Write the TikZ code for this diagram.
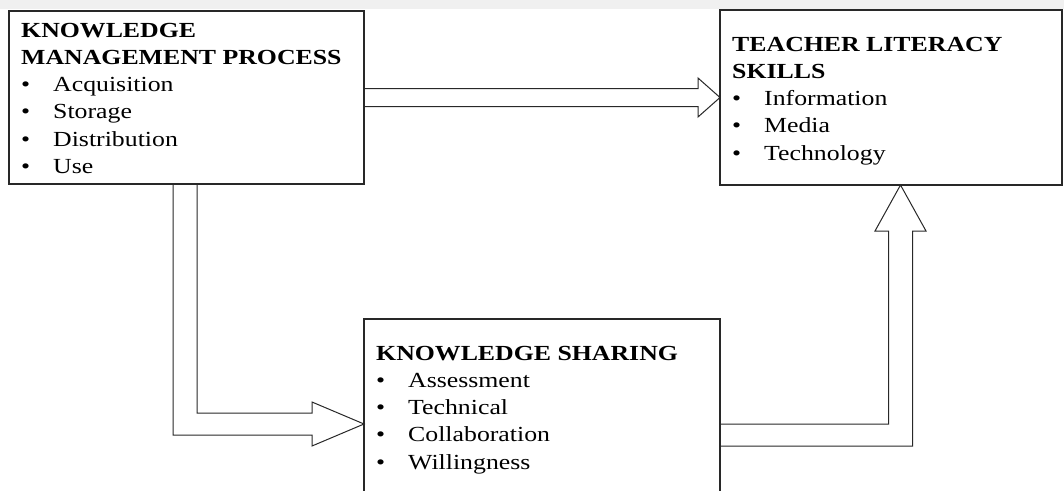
\documentclass[tikz,border=0pt]{standalone}
\usepackage{fontspec}
\setmainfont{Liberation Serif}[FakeStretch=1.2]
\usetikzlibrary{calc}
\definecolor{bandgray}{RGB}{240,240,240}
\definecolor{inkline}{RGB}{40,40,40}
% bullet item: bullet, then the item text at a fixed indent
\newcommand{\bulletitem}[1]{\makebox[32pt][l]{\textbullet}#1}
\tikzset{
  panel/.style={draw=inkline, line width=1.1pt, rectangle, inner sep=0pt, outer sep=0pt, anchor=north west},
  paneltext/.style={anchor=base west, inner sep=0pt, font=\fontsize{21.5pt}{27.3pt}\selectfont},
  blockarrow/.style={draw=inkline, line width=1pt, line join=miter},
}
\begin{document}
\begin{tikzpicture}[x=1pt,y=-1pt]
\useasboundingbox (0,0) rectangle (1064,490);
\clip (0,0) rectangle (1064,490);
\fill[white] (0,0) rectangle (1064,490);
\fill[bandgray] (0,0) rectangle (1064,9);

% the three panels
\node[panel, minimum width=355pt, minimum height=173pt] (km) at (9,11) {};
\node[panel, minimum width=342pt, minimum height=175pt] (tls) at (720,10) {};
\node[panel, minimum width=356pt, minimum height=210pt] (ks) at (364,319) {};

% panel contents
\node[paneltext] (kmtext) at ($(km.north west)+(12,26)$) {\begin{tabular}[t]{@{}l@{}}
\textbf{KNOWLEDGE}\\
\textbf{MANAGEMENT PROCESS}\\
\bulletitem{Acquisition}\\
\bulletitem{Storage}\\
\bulletitem{Distribution}\\
\bulletitem{Use}
\end{tabular}};

\node[paneltext] (tlstext) at ($(tls.north west)+(12,41)$) {\begin{tabular}[t]{@{}l@{}}
\textbf{TEACHER LITERACY}\\
\textbf{SKILLS}\\
\bulletitem{Information}\\
\bulletitem{Media}\\
\bulletitem{Technology}
\end{tabular}};

\node[paneltext] (kstext) at ($(ks.north west)+(12,41)$) {\begin{tabular}[t]{@{}l@{}}
\textbf{KNOWLEDGE SHARING}\\
\bulletitem{Assessment}\\
\bulletitem{Technical}\\
\bulletitem{Collaboration}\\
\bulletitem{Willingness}
\end{tabular}};

% hollow arrow: management process -> literacy skills
\draw[blockarrow] ($(km.east)+(0,-9)$) -- ($(tls.west)+(-22,-9)$) -- ($(tls.west)+(-22,-19.5)$)
  -- (tls.west) -- ($(tls.west)+(-22,19.5)$) -- ($(tls.west)+(-22,9)$) -- ($(km.east)+(0,9)$);

% hollow elbow arrow: management process -> knowledge sharing
\coordinate (from2) at ($(km.south)+(-1.5,0)$);
\coordinate (bend2) at (from2 |- ks.west);
\draw[blockarrow] ($(from2)+(-12,0)$) -- ($(bend2)+(-12,11)$) -- ($(ks.west)+(-52,11)$)
  -- ($(ks.west)+(-52,22)$) -- (ks.west) -- ($(ks.west)+(-52,-22)$) -- ($(ks.west)+(-52,-11)$)
  -- ($(bend2)+(12,-11)$) -- ($(from2)+(12,0)$);

% hollow elbow arrow: knowledge sharing -> literacy skills
\coordinate (from3) at ($(ks.east)+(0,11)$);
\coordinate (to3) at ($(tls.south)+(9.5,0)$);
\coordinate (bend3) at (to3 |- from3);
\draw[blockarrow] ($(from3)+(0,-11)$) -- ($(bend3)+(-12,-11)$) -- ($(to3)+(-12,46)$)
  -- ($(to3)+(-25.5,46)$) -- (to3) -- ($(to3)+(25.5,46)$) -- ($(to3)+(12,46)$)
  -- ($(bend3)+(12,11)$) -- ($(from3)+(0,11)$);
\end{tikzpicture}
\end{document}
